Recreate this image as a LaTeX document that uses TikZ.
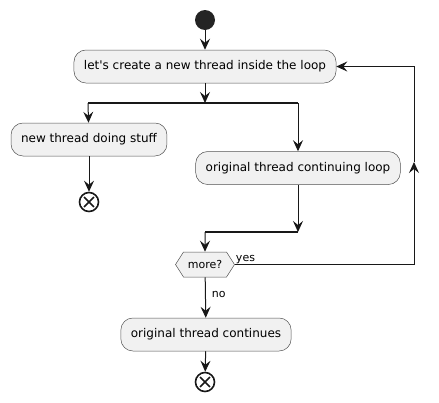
\documentclass[tikz,border=0pt]{standalone}
\usepackage{fontspec}
\setmainfont{DejaVu Sans}
\usetikzlibrary{positioning,calc,arrows.meta,shapes.symbols}
\definecolor{ink}{HTML}{181818}
\definecolor{boxfill}{HTML}{F1F1F1}
\tikzset{
	act/.style={draw=ink!75, fill=boxfill, rounded corners=12pt, line width=0.5pt, minimum height=33pt, inner xsep=10pt, font=\fontsize{12}{14}\selectfont},
	flow/.style={draw=ink, line width=1pt, -{Stealth[length=11pt,width=10pt,inset=4pt]}},
	bar/.style={draw=ink, line width=2pt},
	startnode/.style={circle, fill=ink!95, minimum size=20pt, inner sep=0pt},
	stopnode/.style={circle, draw=ink, line width=1.6pt, minimum size=19pt, inner sep=0pt,
		path picture={\draw[ink, line width=1.6pt]
			($(path picture bounding box.center)+(45:7pt)$) -- ($(path picture bounding box.center)+(225:7pt)$)
			($(path picture bounding box.center)+(135:7pt)$) -- ($(path picture bounding box.center)+(-45:7pt)$);}},
	choice/.style={signal, signal to=west and east, signal pointer angle=115, draw=ink!75, fill=boxfill, line width=0.5pt, minimum width=59pt, minimum height=25pt, inner sep=1pt, font=\fontsize{11}{13}\selectfont},
	lbl/.style={font=\fontsize{11}{13}\selectfont, inner sep=1pt}
}
\begin{document}
\begin{tikzpicture}[x=1pt, y=-1pt]
	\useasboundingbox (0,0) rectangle (439,402);

	\node[startnode] (start) at (205,20) {};
	\node[act] (create) at (205,66.5) {let\textquotesingle s create a new thread inside the loop};
	\coordinate (fork) at (205,103);
	\coordinate (forkl) at (88,103);
	\coordinate (forkr) at (298,103);
	\node[act] (stuff) at (89,139.5) {new thread doing stuff};
	\node[stopnode] (stop1) at (89,202) {};
	\node[act] (cont) at (298,168) {original thread continuing loop};
	\coordinate (joinl) at (205,232);
	\coordinate (joinr) at (298,232);
	\node[choice] (more) at (205,264.5) {more?};
	\node[act] (conts) at (206,334.5) {original thread continues};
	\node[stopnode] (stop2) at (205,382) {};

	\coordinate (loopb) at (414,264.5);
	\coordinate (loopm) at (414,162);
	\coordinate (loopt) at (414,66.5);

	% fork and join bars
	\draw[bar] (forkl) -- (forkr);
	\draw[bar] (joinl) -- (joinr);

	\draw[flow] (start) -- (create);
	\draw[flow] (create) -- (fork);
	\draw[flow] (forkl) -- (stuff);
	\draw[flow] (forkr) -- (cont);
	\draw[flow] (stuff) -- (stop1);
	\draw[flow] (cont) -- (joinr);
	\draw[flow] (joinl) -- (more);
	\draw[flow] (more) -- node[lbl, pos=0.42, right=5pt] {no} (conts);
	\draw[flow] (conts) -- (stop2);

	% back to the top of the loop
	\draw[flow] (more.east) -- (loopb) -- (loopm);
	\draw[flow] (loopm) -- (loopt) -- (create.east);
	\node[lbl, anchor=south west] (yes) at (more.east) {yes};
\end{tikzpicture}
\end{document}
